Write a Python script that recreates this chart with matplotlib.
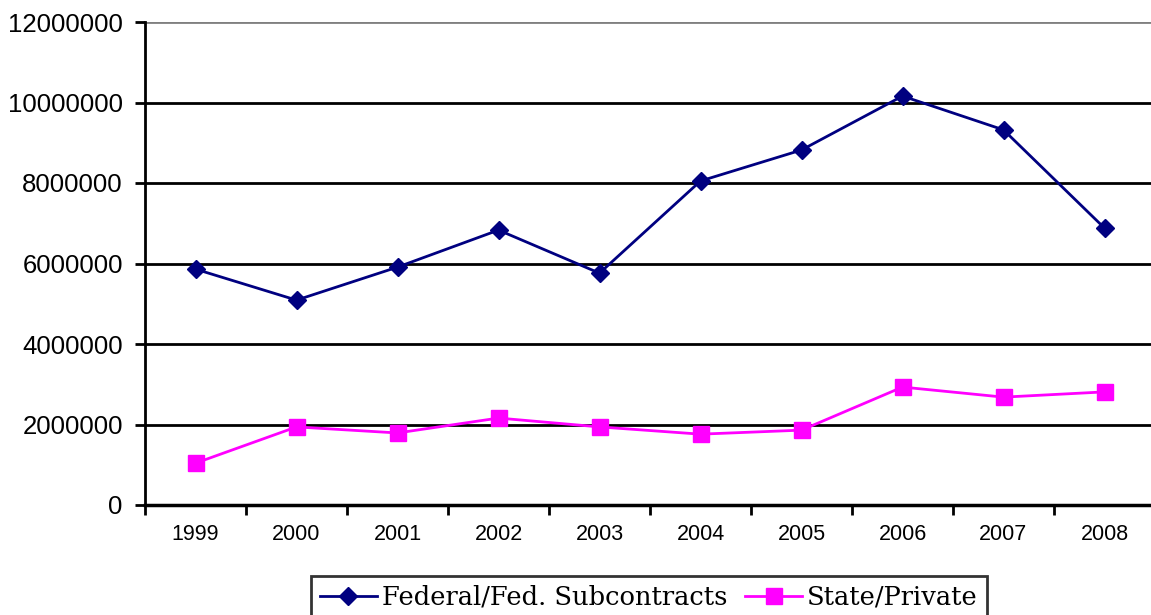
import numpy as np
import matplotlib.pyplot as plt

years = ["1999", "2000", "2001", "2002", "2003", "2004", "2005", "2006", "2007", "2008"]
federal = [5860000, 5090000, 5910000, 6830000, 5760000, 8050000, 8820000, 10160000, 9320000, 6880000]
state = [1040000, 1940000, 1790000, 2160000, 1940000, 1760000, 1860000, 2930000, 2680000, 2810000]
yticks = [0, 2000000, 4000000, 6000000, 8000000, 10000000, 12000000]

fig = plt.figure(figsize=(11.51, 6.15), dpi=100)
ax = fig.add_axes([145/1151, 110/615, 1010/1151, 483/615])

x = np.arange(len(years))
ax.plot(x, federal, color="#000080", marker="D", markersize=9, linewidth=2,
        label="Federal/Fed. Subcontracts", zorder=3)
ax.plot(x, state, color="#FF00FF", marker="s", markersize=11, linewidth=2,
        label="State/Private", zorder=3)

ax.set_xlim(-0.5, len(years) - 0.5)
ax.set_ylim(0, 12000000)
ax.set_yticks(yticks)
ax.set_yticklabels([str(v) for v in yticks], fontsize=18.5, family="Liberation Sans")
for v in yticks[1:]:
    c = "#808080" if v == 12000000 else "black"
    ax.axhline(v, color=c, linewidth=2, zorder=1)

ax.set_xticks(x)
ax.set_xticklabels(years, fontsize=15.5, family="Liberation Sans")
ax.tick_params(axis="x", which="major", length=0, pad=14)
ax.set_xticks(np.arange(-0.5, len(years)), minor=True)
ax.tick_params(axis="x", which="minor", length=7, width=2, direction="out")
ax.tick_params(axis="y", length=7, width=2, direction="out", pad=9)

for s in ["top", "right"]:
    ax.spines[s].set_visible(False)
ax.spines["left"].set_linewidth(2)
ax.spines["bottom"].set_linewidth(2.5)

leg = fig.legend(loc="center", bbox_to_anchor=(649/1151, 1 - 597/615), ncol=2,
                 prop={"family": "DejaVu Serif", "size": 18.5}, frameon=True,
                 fancybox=False, edgecolor="black", handlelength=2.2,
                 handletextpad=0.2, columnspacing=0.7, borderpad=0.35,
                 borderaxespad=0.0)
leg.get_frame().set_linewidth(2)

fig.savefig("out.png", dpi=100)
